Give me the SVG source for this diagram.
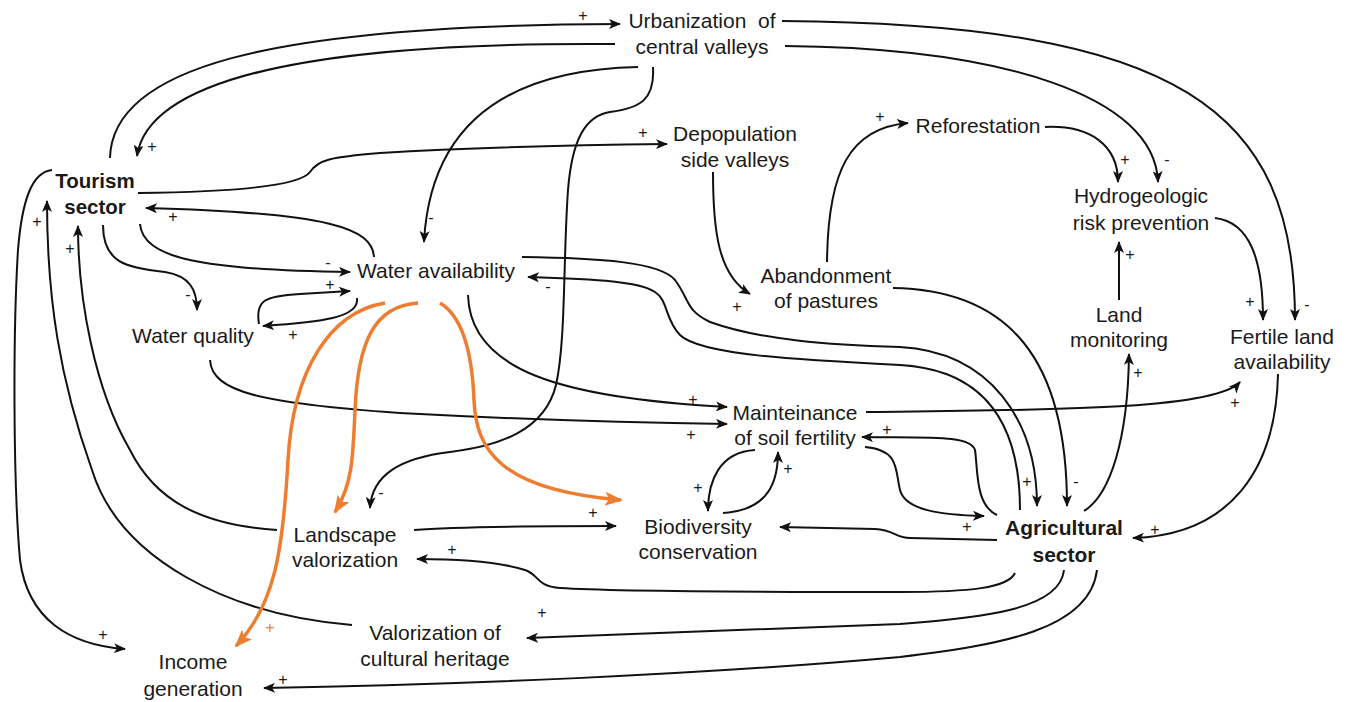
<svg xmlns="http://www.w3.org/2000/svg" width="1347" height="702" viewBox="0 0 1347 702">
<style>
.t{font-family:"Liberation Sans",Arial,sans-serif;font-size:21px;fill:#1a1a1a;text-anchor:middle}
.b{font-weight:bold;font-size:20.5px}
.s{font-family:"Liberation Sans",Arial,sans-serif;font-size:16px;fill:#1a1a1a;text-anchor:middle}
.so{fill:#ED7D31}
.c{fill:none;stroke:#111;stroke-width:2;marker-end:url(#a)}
.n{fill:none;stroke:#111;stroke-width:2}
.o{fill:none;stroke:#ED7D31;stroke-width:3.5;marker-end:url(#ao)}
</style>
<defs>
<marker id="a" viewBox="0 0 12 10" refX="11" refY="5" markerWidth="12" markerHeight="10" orient="auto" markerUnits="userSpaceOnUse">
<path d="M0,0 L12,5 L0,10 L3,5 z" fill="#111"/>
</marker>
<marker id="ao" viewBox="0 0 18 14" refX="16" refY="7" markerWidth="18" markerHeight="14" orient="auto" markerUnits="userSpaceOnUse">
<path d="M0,0 L18,7 L0,14 L4,7 z" fill="#ED7D31"/>
</marker>
</defs>
<rect width="1347" height="702" fill="#fff"/>
<g id="connectors">
<path class="c" d="M110,158 C112,70 260,25 620,24"/>
<path class="c" d="M615,44 C350,42 150,70 137,156"/>
<path class="c" d="M785,46 C1000,48 1155,95 1158,182"/>
<path class="c" d="M782,21 C1180,24 1295,110 1295,320"/>
<path class="c" d="M1215,218 C1250,222 1263,260 1263,320"/>
<path class="c" d="M1045,127 C1090,125 1118,145 1118,182"/>
<path class="c" d="M638,67 C500,70 430,130 424,242"/>
<path class="c" d="M653,67 C655,100 640,108 610,112 C585,116 572,140 568,190 C563,260 566,340 556,385 C545,430 500,446 450,452 C400,458 372,475 370,508"/>
<path class="c" d="M138,193 C230,192 300,186 310,172 C318,160 330,157 380,153 C480,147 580,145 667,144"/>
<path class="c" d="M374,257 C372,228 330,213 146,208"/>
<path class="c" d="M140,224 C143,258 200,270 350,272"/>
<path class="c" d="M103,225 C103,262 125,268 165,272 C190,276 197,290 197,310"/>
<path class="c" d="M259,324 C255,300 265,296 300,294 L350,291"/>
<path class="c" d="M357,298 C360,318 320,322 263,326"/>
<path class="c" d="M210,360 C212,392 260,403 400,413 C550,421 650,423 727,424"/>
<path class="c" d="M468,295 C470,370 560,398 727,407"/>
<path class="c" d="M522,257 C600,258 660,262 675,280 C690,300 685,310 710,322 C760,340 830,345 900,347 C990,352 1037,420 1037,506"/>
<path class="c" d="M1020,510 C1020,430 990,370 900,365 C800,360 700,355 680,335 C665,320 668,300 655,292 C640,282 600,279 528,277"/>
<path class="c" d="M893,288 C1010,290 1067,360 1067,506"/>
<path class="c" d="M713,172 C713,230 718,275 750,294"/>
<path class="c" d="M827,262 C828,170 850,128 908,123"/>
<path class="c" d="M1119,300 L1119,242"/>
<path class="c" d="M1084,511 C1110,495 1128,440 1129,354"/>
<path class="c" d="M1278,374 C1276,470 1230,535 1133,538"/>
<path class="c" d="M866,412 C1050,410 1215,410 1240,382"/>
<path class="c" d="M865,447 C900,450 895,470 900,490 C905,510 940,515 984,516"/>
<path class="c" d="M997,515 C975,505 978,470 975,450 C970,435 930,438 862,437"/>
<path class="c" d="M755,450 C720,452 708,480 708,511"/>
<path class="c" d="M723,513 C770,510 778,480 778,452"/>
<path class="c" d="M997,540 L910,538 C895,538 895,530 875,529 L780,527"/>
<path class="c" d="M414,530 C450,527 500,526 616,526"/>
<path class="c" d="M1015,573 C1008,588 970,592 900,592 C800,592 620,592 560,588 C535,586 540,575 525,570 C500,562 460,559 417,559"/>
<path class="c" d="M1064,570 C1060,610 980,618 900,624 C750,630 600,636 527,638"/>
<path class="c" d="M1097,570 C1090,630 1000,645 900,657 C700,675 450,685 264,688"/>
<path class="c" d="M352,625 C230,615 120,560 92,470 C60,380 47,300 47,201"/>
<path class="c" d="M277,530 C200,525 155,500 130,450 C95,390 78,300 78,226"/>
<path class="c" d="M52,170 C32,172 22,200 18,250 C13,330 13,480 20,560 C28,620 70,645 125,649"/>
<path class="o" d="M385,303 C330,312 293,370 288,460 C283,550 275,605 236,646"/>
<path class="o" d="M418,303 C375,306 358,340 355,410 C353,460 352,485 335,512"/>
<path class="o" d="M440,303 C462,316 472,350 474,400 C476,450 500,490 621,500"/>
</g>
<g id="signs">
<text class="s" x="583" y="21">+</text>
<text class="s" x="152" y="152">+</text>
<text class="s" x="643" y="138">+</text>
<text class="s" x="173" y="222">+</text>
<text class="s" x="37" y="227">+</text>
<text class="s" x="70" y="254">+</text>
<text class="s" x="431" y="223">-</text>
<text class="s" x="328" y="268">-</text>
<text class="s" x="330" y="290">+</text>
<text class="s" x="293" y="340">+</text>
<text class="s" x="188" y="300">-</text>
<text class="s" x="548" y="292">-</text>
<text class="s" x="737" y="312">+</text>
<text class="s" x="880" y="122">+</text>
<text class="s" x="1125" y="165">+</text>
<text class="s" x="1167" y="165">-</text>
<text class="s" x="1130" y="260">+</text>
<text class="s" x="1250" y="307">+</text>
<text class="s" x="1307" y="310">-</text>
<text class="s" x="1138" y="378">+</text>
<text class="s" x="1235" y="408">+</text>
<text class="s" x="693" y="405">+</text>
<text class="s" x="691" y="440">+</text>
<text class="s" x="887" y="435">+</text>
<text class="s" x="788" y="474">+</text>
<text class="s" x="698" y="493">+</text>
<text class="s" x="967" y="532">+</text>
<text class="s" x="1027" y="487">+</text>
<text class="s" x="1076" y="487">-</text>
<text class="s" x="1155" y="535">+</text>
<text class="s" x="381" y="498">-</text>
<text class="s" x="593" y="518">+</text>
<text class="s" x="452" y="555">+</text>
<text class="s" x="542" y="618">+</text>
<text class="s" x="283" y="685">+</text>
<text class="s" x="103" y="640">+</text>
<text class="s so" x="270" y="633">+</text>
</g>
<g id="urbanization"><text class="t" x="702" y="28">Urbanization&#160; of</text><text class="t" x="702" y="54">central valleys</text></g>
<g id="depopulation"><text class="t" x="735" y="141">Depopulation</text><text class="t" x="735" y="167">side valleys</text></g>
<g id="reforestation"><text class="t" x="978" y="133">Reforestation</text></g>
<g id="hydrogeologic"><text class="t" x="1141" y="203">Hydrogeologic</text><text class="t" x="1141" y="230">risk prevention</text></g>
<g id="tourism"><text class="t b" x="95" y="188">Tourism</text><text class="t b" x="95" y="214">sector</text></g>
<g id="water-availability"><text class="t" x="436" y="278">Water availability</text></g>
<g id="water-quality"><text class="t" x="193" y="343">Water quality</text></g>
<g id="abandonment"><text class="t" x="826" y="283">Abandonment</text><text class="t" x="826" y="308">of pastures</text></g>
<g id="land-monitoring"><text class="t" x="1119" y="322">Land</text><text class="t" x="1119" y="347">monitoring</text></g>
<g id="fertile-land"><text class="t" x="1282" y="344">Fertile land</text><text class="t" x="1282" y="369">availability</text></g>
<g id="soil-fertility"><text class="t" x="795" y="420">Mainteinance</text><text class="t" x="795" y="445">of soil fertility</text></g>
<g id="landscape"><text class="t" x="345" y="542">Landscape</text><text class="t" x="345" y="567">valorization</text></g>
<g id="biodiversity"><text class="t" x="698" y="534">Biodiversity</text><text class="t" x="698" y="559">conservation</text></g>
<g id="agricultural"><text class="t b" x="1064" y="535" style="font-size:21px">Agricultural</text><text class="t b" x="1064" y="562" style="font-size:21px">sector</text></g>
<g id="cultural-heritage"><text class="t" x="435" y="640">Valorization of</text><text class="t" x="435" y="666">cultural heritage</text></g>
<g id="income"><text class="t" x="193" y="669">Income</text><text class="t" x="193" y="696">generation</text></g>
</svg>
